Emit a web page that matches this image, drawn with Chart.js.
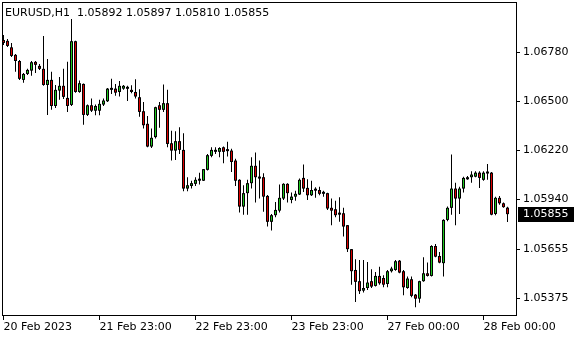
<!DOCTYPE html>
<html>
<head>
<meta charset="utf-8">
<script src="https://cdn.jsdelivr.net/npm/chart.js@4.4.0/dist/chart.umd.min.js"></script>
<style>
  html, body { margin: 0; padding: 0; background: #fff; }
  canvas { display: block; }
</style>
</head>
<body>
<canvas id="chart" width="580" height="340"></canvas>
<script>
// EURUSD H1 candles
const opens = [
  1.06850,1.06845,1.06808,1.06765,1.06730,1.06622,1.06656,1.06675,1.06725,1.06702,
  1.06685,1.06593,1.06622,1.06473,1.06561,1.06588,1.06519,1.06479,1.06843,1.06553,
  1.06599,1.06422,1.06477,1.06446,1.06446,1.06481,1.06500,1.06565,1.06572,1.06553,
  1.06572,1.06576,1.06565,1.06553,1.06523,1.06443,1.06371,1.06241,1.06295,1.06477,
  1.06451,1.06489,1.06260,1.06218,1.06272,1.06222,1.06001,1.06016,1.06028,1.06046,
  1.06046,1.06108,1.06188,1.06222,1.06211,1.06237,1.06218,1.06218,1.06161,1.06051,
  1.05898,1.05975,1.06032,1.06131,1.06069,1.06066,1.05959,1.05811,1.05849,1.05875,
  1.05944,1.06028,1.05936,1.05955,1.05967,1.06062,1.06005,1.05963,1.05993,1.05993,
  1.05978,1.05975,1.05891,1.05883,1.05860,1.05860,1.05792,1.05655,1.05536,1.05472,
  1.05418,1.05433,1.05472,1.05445,1.05502,1.05490,1.05456,1.05529,1.05536,1.05589,
  1.05529,1.05433,1.05483,1.05395,1.05372,1.05472,1.05517,1.05502,1.05673,1.05616,
  1.05575,1.05822,1.05891,1.06001,1.05944,1.06001,1.06054,1.06066,1.06069,1.06092,
  1.06051,1.06089,1.06092,1.05856,1.05948,1.05917,1.05892
];
const highs = [
  1.06879,1.06856,1.06833,1.06770,1.06736,1.06662,1.06685,1.06730,1.06730,1.06713,
  1.06873,1.06742,1.06668,1.06593,1.06639,1.06685,1.06725,1.06970,1.06845,1.06618,
  1.06602,1.06481,1.06515,1.06481,1.06508,1.06515,1.06576,1.06629,1.06599,1.06615,
  1.06593,1.06588,1.06592,1.06626,1.06569,1.06496,1.06416,1.06344,1.06468,1.06496,
  1.06595,1.06565,1.06332,1.06329,1.06352,1.06317,1.06066,1.06046,1.06066,1.06092,
  1.06113,1.06199,1.06237,1.06237,1.06237,1.06241,1.06268,1.06229,1.06172,1.06054,
  1.06020,1.06051,1.06180,1.06207,1.06161,1.06089,1.05965,1.05856,1.05925,1.06024,
  1.06032,1.06032,1.05978,1.05989,1.06058,1.06138,1.06054,1.06046,1.06009,1.06012,
  1.05989,1.05977,1.05944,1.05932,1.05952,1.05891,1.05793,1.05656,1.05597,1.05593,
  1.05593,1.05582,1.05540,1.05525,1.05555,1.05506,1.05536,1.05555,1.05593,1.05593,
  1.05536,1.05498,1.05498,1.05399,1.05475,1.05609,1.05578,1.05677,1.05685,1.05639,
  1.05826,1.05898,1.06195,1.06035,1.06012,1.06069,1.06073,1.06100,1.06100,1.06100,
  1.06100,1.06142,1.06096,1.05955,1.05959,1.05921,1.05897
];
const lows = [
  1.06822,1.06810,1.06753,1.06668,1.06622,1.06605,1.06650,1.06645,1.06662,1.06679,
  1.06588,1.06422,1.06451,1.06462,1.06508,1.06513,1.06439,1.06473,1.06548,1.06548,
  1.06365,1.06416,1.06439,1.06420,1.06420,1.06473,1.06496,1.06542,1.06531,1.06527,
  1.06565,1.06502,1.06546,1.06515,1.06412,1.06344,1.06237,1.06233,1.06287,1.06348,
  1.06439,1.06237,1.06161,1.06165,1.06199,1.05986,1.05986,1.06001,1.06016,1.06024,
  1.06045,1.06104,1.06180,1.06199,1.06180,1.06146,1.06184,1.06096,1.06016,1.05864,
  1.05852,1.05852,1.06001,1.05921,1.05944,1.05868,1.05784,1.05761,1.05837,1.05864,
  1.05936,1.05921,1.05917,1.05932,1.05965,1.05982,1.05936,1.05959,1.05948,1.05963,
  1.05955,1.05879,1.05792,1.05837,1.05811,1.05727,1.05639,1.05451,1.05353,1.05399,
  1.05407,1.05422,1.05433,1.05441,1.05452,1.05437,1.05437,1.05521,1.05532,1.05517,
  1.05392,1.05429,1.05380,1.05323,1.05349,1.05468,1.05498,1.05498,1.05609,1.05575,
  1.05498,1.05815,1.05852,1.05792,1.05856,1.05978,1.06051,1.06035,1.06066,1.06005,
  1.06046,1.06051,1.05849,1.05849,1.05909,1.05891,1.05810
];
const closes = [
  1.06833,1.06816,1.06759,1.06730,1.06628,1.06656,1.06679,1.06723,1.06708,1.06685,
  1.06593,1.06622,1.06473,1.06565,1.06588,1.06525,1.06473,1.06843,1.06553,1.06603,
  1.06422,1.06477,1.06446,1.06473,1.06485,1.06504,1.06572,1.06572,1.06549,1.06588,
  1.06588,1.06571,1.06553,1.06527,1.06439,1.06363,1.06241,1.06291,1.06466,1.06451,
  1.06489,1.06256,1.06218,1.06272,1.06222,1.06001,1.06020,1.06032,1.06051,1.06054,
  1.06112,1.06192,1.06222,1.06211,1.06233,1.06211,1.06215,1.06153,1.06046,1.05898,
  1.05975,1.06032,1.06131,1.06066,1.06058,1.05955,1.05811,1.05849,1.05879,1.05948,
  1.06028,1.05975,1.05955,1.05971,1.06051,1.06001,1.05963,1.05993,1.05989,1.05971,
  1.05971,1.05887,1.05875,1.05849,1.05852,1.05784,1.05655,1.05529,1.05468,1.05415,
  1.05433,1.05464,1.05441,1.05502,1.05460,1.05452,1.05529,1.05544,1.05586,1.05521,
  1.05437,1.05487,1.05388,1.05372,1.05472,1.05517,1.05502,1.05673,1.05612,1.05578,
  1.05822,1.05891,1.06001,1.05944,1.06001,1.06062,1.06066,1.06081,1.06092,1.06062,
  1.06092,1.06087,1.05852,1.05948,1.05917,1.05895,1.05855
];

// time axis: bar index -> label
const timeTickBars = [0, 24, 48, 72, 96, 120];
const timeTickLabels = ["20 Feb 2023", "21 Feb 23:00", "22 Feb 23:00", "23 Feb 23:00", "27 Feb 00:00", "28 Feb 00:00"];
const priceTicks = [1.05375, 1.05655, 1.05940, 1.06220, 1.06500, 1.06780];

const symbolTitle = "EURUSD,H1";
const UP = "#1ec81e";
const DOWN = "#dc0000";
const FONT = "DejaVu Sans";

const last = closes.length - 1;
const bodies = opens.map((o, i) => ({ x: i, y: [o, closes[i]] }));
const wicks = lows.map((l, i) => ({ x: i, y: [l, highs[i]] }));
const bodyColors = opens.map((o, i) => closes[i] >= o ? UP : DOWN);

Chart.defaults.font.family = FONT;
Chart.defaults.font.size = 11;
Chart.defaults.color = "#000";

// frame, header line and last price box
const mtDecor = {
  id: "mtDecor",
  afterDraw(chart) {
    const { ctx, chartArea: a } = chart;
    const y = chart.scales.y;
    ctx.save();
    ctx.strokeStyle = "#000";
    ctx.lineWidth = 1;
    ctx.strokeRect(a.left + 0.5, a.top + 0.5, a.right - a.left, a.bottom - a.top - 1);

    ctx.font = "11px " + FONT;
    ctx.fillStyle = "#000";
    ctx.textBaseline = "alphabetic";
    ctx.textAlign = "left";
    const head = symbolTitle + "  " + [opens[last], highs[last], lows[last], closes[last]].map(v => v.toFixed(5)).join(" ");
    ctx.fillText(head, 5, 16);

    const py = Math.round(y.getPixelForValue(closes[last]));
    ctx.fillStyle = "#000";
    ctx.fillRect(a.right + 2, py - 7, 56, 15);
    ctx.fillStyle = "#fff";
    ctx.textBaseline = "middle";
    ctx.fillText(closes[last].toFixed(5), a.right + 7, py + 0.5);
    ctx.restore();
  }
};

const candleBar = { stack: "candle", borderSkipped: false, inflateAmount: 0 };

new Chart(document.getElementById("chart"), {
  type: "bar",
  data: {
    datasets: [{
      // coloured middle of the body, with black top/bottom edge
      ...candleBar,
      label: "fill",
      data: bodies,
      backgroundColor: bodyColors,
      borderColor: "#000",
      borderWidth: { top: 1, bottom: 1, left: 0, right: 0 },
      barThickness: 1,
      minBarLength: 2,
      order: 0
    }, {
      // black body outline
      ...candleBar,
      label: "body",
      data: bodies,
      backgroundColor: "#000",
      borderWidth: 0,
      barThickness: 3,
      minBarLength: 2,
      order: 1
    }, {
      ...candleBar,
      label: "wick",
      data: wicks,
      backgroundColor: "#000",
      borderWidth: 0,
      barThickness: 1,
      minBarLength: 1,
      order: 2
    }]
  },
  options: {
    responsive: false,
    animation: false,
    events: [],
    layout: { padding: { left: 2, top: 2, right: 0, bottom: 0 } },
    plugins: { legend: { display: false }, tooltip: { enabled: false } },
    scales: {
      x: {
        type: "linear",
        position: "bottom",
        offset: false,
        min: -0.375,
        max: 128.125,
        afterBuildTicks: s => { s.ticks = timeTickBars.map(v => ({ value: v })); },
        afterFit: s => { s.height = 24; s.paddingLeft = 0; s.paddingRight = 0; },
        ticks: {
          align: "start",
          autoSkip: false,
          maxRotation: 0,
          padding: 1,
          callback: v => timeTickLabels[timeTickBars.indexOf(v)]
        },
        grid: { offset: false, drawOnChartArea: false, drawTicks: true, tickLength: 4, color: "#000" },
        border: { display: false }
      },
      y: {
        position: "right",
        stacked: false,
        min: 1.05273,
        max: 1.07067,
        afterBuildTicks: s => { s.ticks = priceTicks.map(v => ({ value: v })); },
        afterFit: s => { s.width = 64; s.paddingTop = 0; s.paddingBottom = 0; },
        ticks: {
          padding: 3,
          callback: v => v.toFixed(5)
        },
        grid: { drawOnChartArea: false, drawTicks: true, tickLength: 4, color: "#000" },
        border: { display: false }
      }
    }
  },
  plugins: [mtDecor]
});
</script>
</body>
</html>
